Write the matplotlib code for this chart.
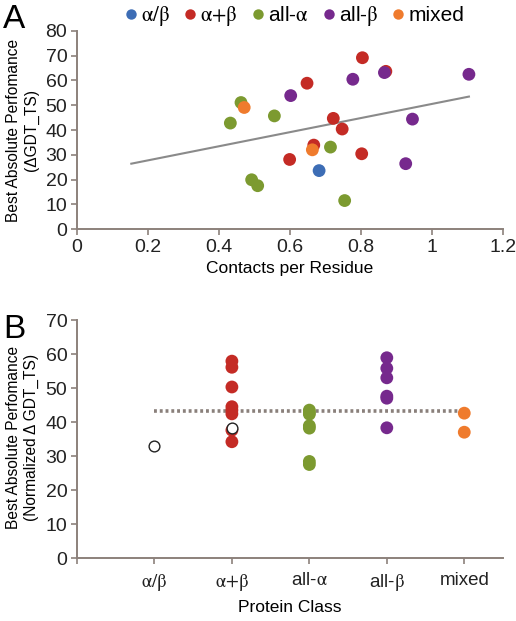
import matplotlib
matplotlib.use("Agg")
import matplotlib.pyplot as plt
from matplotlib import font_manager
from matplotlib.lines import Line2D

# ---- data ----
class_names = [r"$\mathrm{\alpha/\beta}$", r"$\mathrm{\alpha{+}\beta}$", r"all-$\mathrm{\alpha}$",
               r"all-$\mathrm{\beta}$", "mixed"]
class_colors = ["#3d6db5", "#c42b25", "#7c9a30", "#76298d", "#ef7b2d"]

# panel A: contacts per residue vs best absolute performance
ab_x = [0.682]
ab_y = [23.6]
apb_x = [0.804, 0.870, 0.648, 0.722, 0.747, 0.667, 0.599, 0.802]
apb_y = [69.2, 63.7, 58.9, 44.7, 40.4, 33.9, 28.1, 30.4]
alla_x = [0.462, 0.432, 0.556, 0.492, 0.509, 0.714, 0.754]
alla_y = [51.1, 42.8, 45.7, 19.9, 17.5, 33.1, 11.5]
allb_x = [1.104, 0.866, 0.777, 0.602, 0.945, 0.926]
allb_y = [62.5, 63.2, 60.5, 53.9, 44.4, 26.4]
mixed_x = [0.471, 0.663]
mixed_y = [49.1, 32.0]
trend_x = [0.153, 1.104]
trend_y = [26.4, 53.5]

# panel B: normalized performance per class
norm_ab = []
norm_apb = [57.9, 56.1, 50.3, 44.5, 43.5, 42.4, 37.6, 34.2]
norm_alla = [43.5, 42.8, 42.3, 38.9, 38.2, 28.4, 27.5]
norm_allb = [58.9, 55.8, 53.0, 47.6, 47.0, 38.3]
norm_mixed = [42.6, 37.0]
open_pos = [1, 2]
open_y = [33.0, 38.3]
mean_level = 43.3

# ---- style ----
names = {f.name for f in font_manager.fontManager.ttflist}
family = "Liberation Sans Narrow" if "Liberation Sans Narrow" in names else "Liberation Sans"
plt.rcParams["font.family"] = [family, "DejaVu Sans"]
plt.rcParams["mathtext.fontset"] = "stix"
axis_color = "#8c817b"

fig = plt.figure(figsize=(5.16, 6.21), dpi=100)
axA = fig.add_axes([0.1492, 0.6312, 0.8256, 0.3189])
axB = fig.add_axes([0.1492, 0.1014, 0.8256, 0.3833])

def style_axis(ax):
    for side in ["top", "right"]:
        ax.spines[side].set_visible(False)
    for side in ["left", "bottom"]:
        ax.spines[side].set_color(axis_color)
        ax.spines[side].set_linewidth(1.4)
    ax.tick_params(colors=axis_color, labelcolor="#222222", labelsize=14,
                   length=4, width=1.2, direction="out", pad=3)

# panel A
groups_x = [ab_x, apb_x, alla_x, allb_x, mixed_x]
groups_y = [ab_y, apb_y, alla_y, allb_y, mixed_y]
axA.plot(trend_x, trend_y, color="#8a8a8a", lw=1.5, zorder=2)
for gx, gy, c in zip(groups_x, groups_y, class_colors):
    axA.scatter(gx, gy, s=85, color=c, edgecolors="none", zorder=3)
axA.set_xlim(0, 1.2)
axA.set_ylim(0, 80)
axA.set_xticks([0, 0.2, 0.4, 0.6, 0.8, 1.0, 1.2])
axA.set_xticklabels(["0", "0.2", "0.4", "0.6", "0.8", "1", "1.2"])
axA.set_yticks(range(0, 81, 10))
axA.set_xlabel("Contacts per Residue", fontsize=12.5, labelpad=4)
style_axis(axA)

# panel B
groups_b = [norm_ab, norm_apb, norm_alla, norm_allb, norm_mixed]
axB.plot([1, 5], [mean_level, mean_level], color="#8a807b", lw=2.6,
         linestyle=(0, (0.8, 0.8)), zorder=2)
for i, (vals, c) in enumerate(zip(groups_b, class_colors)):
    axB.scatter([i + 1] * len(vals), vals, s=85, color=c, edgecolors="none", zorder=3)
axB.scatter(open_pos, open_y, s=60, facecolors="white", edgecolors="#222222",
            linewidths=1.0, zorder=4)
axB.set_xlim(0, 5.5)
axB.set_ylim(0, 70)
axB.set_xticks(range(0, 6))
axB.set_xticklabels([""] + class_names)
axB.set_yticks(range(0, 71, 10))
axB.set_xlabel("Protein Class", fontsize=12.5, labelpad=5)
style_axis(axB)
axB.tick_params(axis="x", labelsize=13.5, pad=6)

# y labels
fig.text(0.044, 0.79, "Best Absolute Perfomance\n(ΔGDT_TS)", rotation=90,
         ha="center", va="center", fontsize=11.2, linespacing=1.25)
fig.text(0.044, 0.295, "Best Absolute Perfomance\n(Normalized Δ GDT_TS)", rotation=90,
         ha="center", va="center", fontsize=11.2, linespacing=1.25)

# panel letters
fig.text(0.006, 0.955, "A", fontsize=24, ha="left", va="baseline")
fig.text(0.006, 0.456, "B", fontsize=24, ha="left", va="baseline")

# legend
handles = [Line2D([], [], marker="o", linestyle="none", markersize=7.5,
                  markerfacecolor=c, markeredgecolor="none") for c in class_colors]
fig.legend(handles, class_names, loc="center", bbox_to_anchor=(0.567, 0.974),
           ncol=5, frameon=False, fontsize=15, handletextpad=0.0,
           columnspacing=0.45, handlelength=1.0, borderaxespad=0)

fig.savefig("out.png", dpi=100)
